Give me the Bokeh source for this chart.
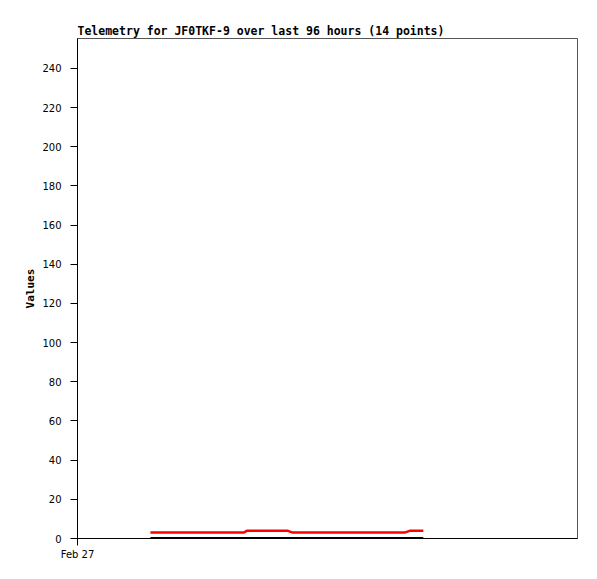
from bokeh.plotting import figure
from bokeh.models import FixedTicker, Range1d
from bokeh.embed import file_html
from bokeh.resources import INLINE

# hours since Feb 27 00:00
hours = [14.0, 19.8, 25.5, 31.9, 32.6, 36.5, 40.3, 41.3, 47.6, 54.3, 60.1, 62.8, 63.9, 66.4]
red_values = [3, 3, 3, 3, 4, 4, 4, 3, 3, 3, 3, 3, 4, 4]
black_values = [0.3] * 14
y_ticks = [0, 20, 40, 60, 80, 100, 120, 140, 160, 180, 200, 220, 240]
x_ticks = [0]
x_tick_labels = {0: "Feb 27"}

p = figure(frame_width=500, frame_height=500, output_backend="svg", toolbar_location=None,
           x_range=Range1d(0, 96), y_range=Range1d(0, 255.3),
           title="Telemetry for JF0TKF-9 over last 96 hours (14 points)",
           min_border_left=77, min_border_right=10, min_border_top=38, min_border_bottom=30)

p.title.text_font = "DejaVu Sans Mono"
p.title.text_font_size = "11.5px"
p.title.text_font_style = "bold"
p.title.text_color = "black"
p.title.align = "left"
p.title.offset = 0
p.title.standoff = 1

p.line(hours, black_values, line_color="black", line_width=2)
p.line(hours, red_values, line_color="red", line_width=2.5)

p.xgrid.visible = False
p.ygrid.visible = False
p.outline_line_color = "#555555"
p.outline_line_width = 1
p.background_fill_color = "white"

p.yaxis.ticker = FixedTicker(ticks=y_ticks)
p.xaxis.ticker = FixedTicker(ticks=x_ticks)
p.xaxis.major_label_overrides = x_tick_labels
for ax in (p.xaxis[0], p.yaxis[0]):
    ax.minor_tick_line_color = None
    ax.major_tick_in = 0
    ax.major_tick_out = 7
    ax.axis_line_color = "black"
    ax.major_tick_line_color = "black"
    ax.major_label_text_font = "DejaVu Sans"
    ax.major_label_text_font_size = "10px"
    ax.major_label_text_color = "black"
p.yaxis.major_label_standoff = 9
p.xaxis.major_label_standoff = 3
p.xaxis.major_label_text_align = "right"

p.yaxis.axis_label = "Values"
p.yaxis.axis_label_text_font = "DejaVu Sans Mono"
p.yaxis.axis_label_text_font_style = "bold"
p.yaxis.axis_label_text_font_size = "11px"
p.yaxis.axis_label_text_color = "black"
p.yaxis.axis_label_standoff = 2

open("out.html", "w").write(file_html(p, INLINE))
